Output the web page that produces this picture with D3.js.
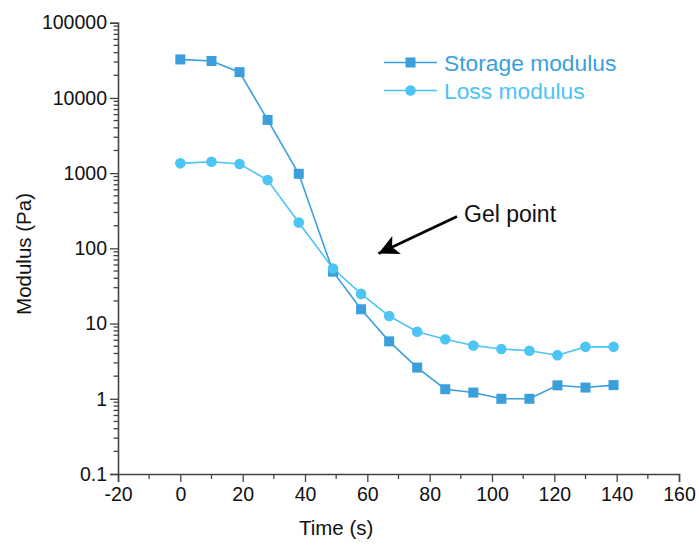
<!DOCTYPE html>
<html>
<head>
<meta charset="utf-8">
<script src="https://cdn.jsdelivr.net/npm/d3@7"></script>
<style>
  body { margin: 0; background: #fff; }
  text { font-family: "Liberation Sans", Arial, sans-serif; }
</style>
</head>
<body>
<div id="chart"></div>
<script>
// Data
var time = [0, 10, 19, 28, 38, 49, 58, 67, 76, 85, 94, 103, 112, 121, 130, 139];
var storage = [32500, 31000, 22000, 5100, 980, 49, 15.5, 5.8, 2.6, 1.34, 1.21, 1.0, 1.0, 1.51, 1.41, 1.52];
var loss = [1350, 1420, 1320, 810, 220, 54, 24.8, 12.6, 7.8, 6.2, 5.1, 4.6, 4.36, 3.8, 4.9, 4.9];
var xTicks = [-20, 0, 20, 40, 60, 80, 100, 120, 140, 160];
var yTicks = [0.1, 1, 10, 100, 1000, 10000, 100000];

var W = 699, H = 546;
var margin = {top: 22.7, right: 20, bottom: 72, left: 118},
    width = W - margin.left - margin.right,
    height = H - margin.top - margin.bottom;

var storageColor = "#3a9fdb", lossColor = "#4cc4f4";

var svg = d3.select("#chart")
            .append("svg")
            .attr("width", W)
            .attr("height", H);
var g = svg.append("g")
           .attr("transform", "translate(" + margin.left + "," + margin.top + ")");

var x = d3.scaleLinear().domain([-20, 160]).range([0, width]);
var y = d3.scaleLog().domain([0.1, 100000]).range([height, 0]);

// minor ticks
var xMinor = d3.range(-10, 160, 20);
var yMinor = [];
yTicks.slice(0, -1).forEach(function(t) {
    for (var k = 2; k < 10; k++) yMinor.push(t * k);
});

var axisColor = "#444";

// X axis
var xAxis = g.append("g")
   .attr("transform", "translate(0," + height + ")")
   .call(d3.axisBottom(x).tickValues(xTicks).tickSize(8).tickPadding(5)
           .tickFormat(function(d) { return String(d); }));
xAxis.append("g").selectAll("line")
   .data(xMinor).enter().append("line")
   .attr("x1", function(d) { return x(d); })
   .attr("x2", function(d) { return x(d); })
   .attr("y1", 0).attr("y2", 5)
   .attr("stroke", axisColor).attr("stroke-width", 1.3);

// Y axis
var yAxis = g.append("g")
   .call(d3.axisLeft(y).tickValues(yTicks).tickSize(8).tickPadding(3)
           .tickFormat(function(d) { return d < 1 ? "0.1" : String(d); }));
yAxis.append("g").selectAll("line")
   .data(yMinor).enter().append("line")
   .attr("y1", function(d) { return y(d); })
   .attr("y2", function(d) { return y(d); })
   .attr("x1", 0).attr("x2", -4.5)
   .attr("stroke", axisColor).attr("stroke-width", 1.3);

[xAxis, yAxis].forEach(function(a) {
    a.select(".domain").attr("stroke", axisColor).attr("stroke-width", 1.6);
    a.selectAll(".tick line").attr("stroke", axisColor).attr("stroke-width", 1.3);
    a.selectAll(".tick text").attr("fill", "#111").style("font-size", "19.5px")
     .style("font-family", "'Liberation Sans', Arial, sans-serif");
});

// Axis titles
g.append("text")
   .attr("x", x(50))
   .attr("y", height + 61)
   .attr("text-anchor", "middle")
   .style("font-size", "20.5px")
   .attr("fill", "#111")
   .text("Time (s)");
g.append("text")
   .attr("transform", "rotate(-90)")
   .attr("x", -(254 - margin.top))
   .attr("y", -margin.left + 31)
   .attr("text-anchor", "middle")
   .style("font-size", "20.5px")
   .attr("fill", "#111")
   .text("Modulus (Pa)");

// Lines
var storageData = time.map(function(t, i) { return {t: t, v: storage[i]}; });
var lossData = time.map(function(t, i) { return {t: t, v: loss[i]}; });
var line = d3.line()
   .x(function(d) { return x(d.t); })
   .y(function(d) { return y(d.v); });

g.append("path").datum(lossData)
   .attr("fill", "none").attr("stroke", lossColor).attr("stroke-width", 1.6)
   .attr("d", line);
g.append("path").datum(storageData)
   .attr("fill", "none").attr("stroke", storageColor).attr("stroke-width", 1.6)
   .attr("d", line);

// Markers
var sq = 10;
g.selectAll(".sq").data(storageData).enter().append("rect")
   .attr("class", "sq")
   .attr("x", function(d) { return x(d.t) - sq / 2; })
   .attr("y", function(d) { return y(d.v) - sq / 2; })
   .attr("width", sq).attr("height", sq)
   .attr("fill", storageColor);
g.selectAll(".dot").data(lossData).enter().append("circle")
   .attr("class", "dot")
   .attr("cx", function(d) { return x(d.t); })
   .attr("cy", function(d) { return y(d.v); })
   .attr("r", 5.3)
   .attr("fill", lossColor);

// Legend
var legend = [
    {label: "Storage modulus", color: storageColor, shape: "square", y: 62.5},
    {label: "Loss modulus", color: lossColor, shape: "circle", y: 90.5}
];
legend.forEach(function(l) {
    svg.append("line")
       .attr("x1", 384).attr("x2", 437).attr("y1", l.y).attr("y2", l.y)
       .attr("stroke", l.color).attr("stroke-width", 1.6);
    if (l.shape === "square") {
        svg.append("rect").attr("x", 410.5 - sq / 2).attr("y", l.y - sq / 2)
           .attr("width", sq).attr("height", sq).attr("fill", l.color);
    } else {
        svg.append("circle").attr("cx", 410.5).attr("cy", l.y).attr("r", 5.3)
           .attr("fill", l.color);
    }
    svg.append("text")
       .attr("x", 444).attr("y", l.y + 8)
       .style("font-size", "22.8px")
       .attr("fill", l.color)
       .text(l.label);
});

// Gel point annotation
svg.append("defs").append("marker")
   .attr("id", "arrow")
   .attr("viewBox", "0 0 10 10")
   .attr("refX", 10).attr("refY", 5)
   .attr("markerUnits", "userSpaceOnUse")
   .attr("markerWidth", 27).attr("markerHeight", 20)
   .attr("orient", "auto")
   .append("path")
   .attr("d", "M0,0 L10,5 L0,10 L2.5,5 Z")
   .attr("fill", "#000");
svg.append("line")
   .attr("x1", 457).attr("y1", 216.5)
   .attr("x2", 378.5).attr("y2", 253.5)
   .attr("stroke", "#000").attr("stroke-width", 2.6)
   .attr("marker-end", "url(#arrow)");
svg.append("text")
   .attr("x", 464).attr("y", 222)
   .style("font-size", "23px")
   .attr("fill", "#111")
   .text("Gel point");
</script>
</body>
</html>
